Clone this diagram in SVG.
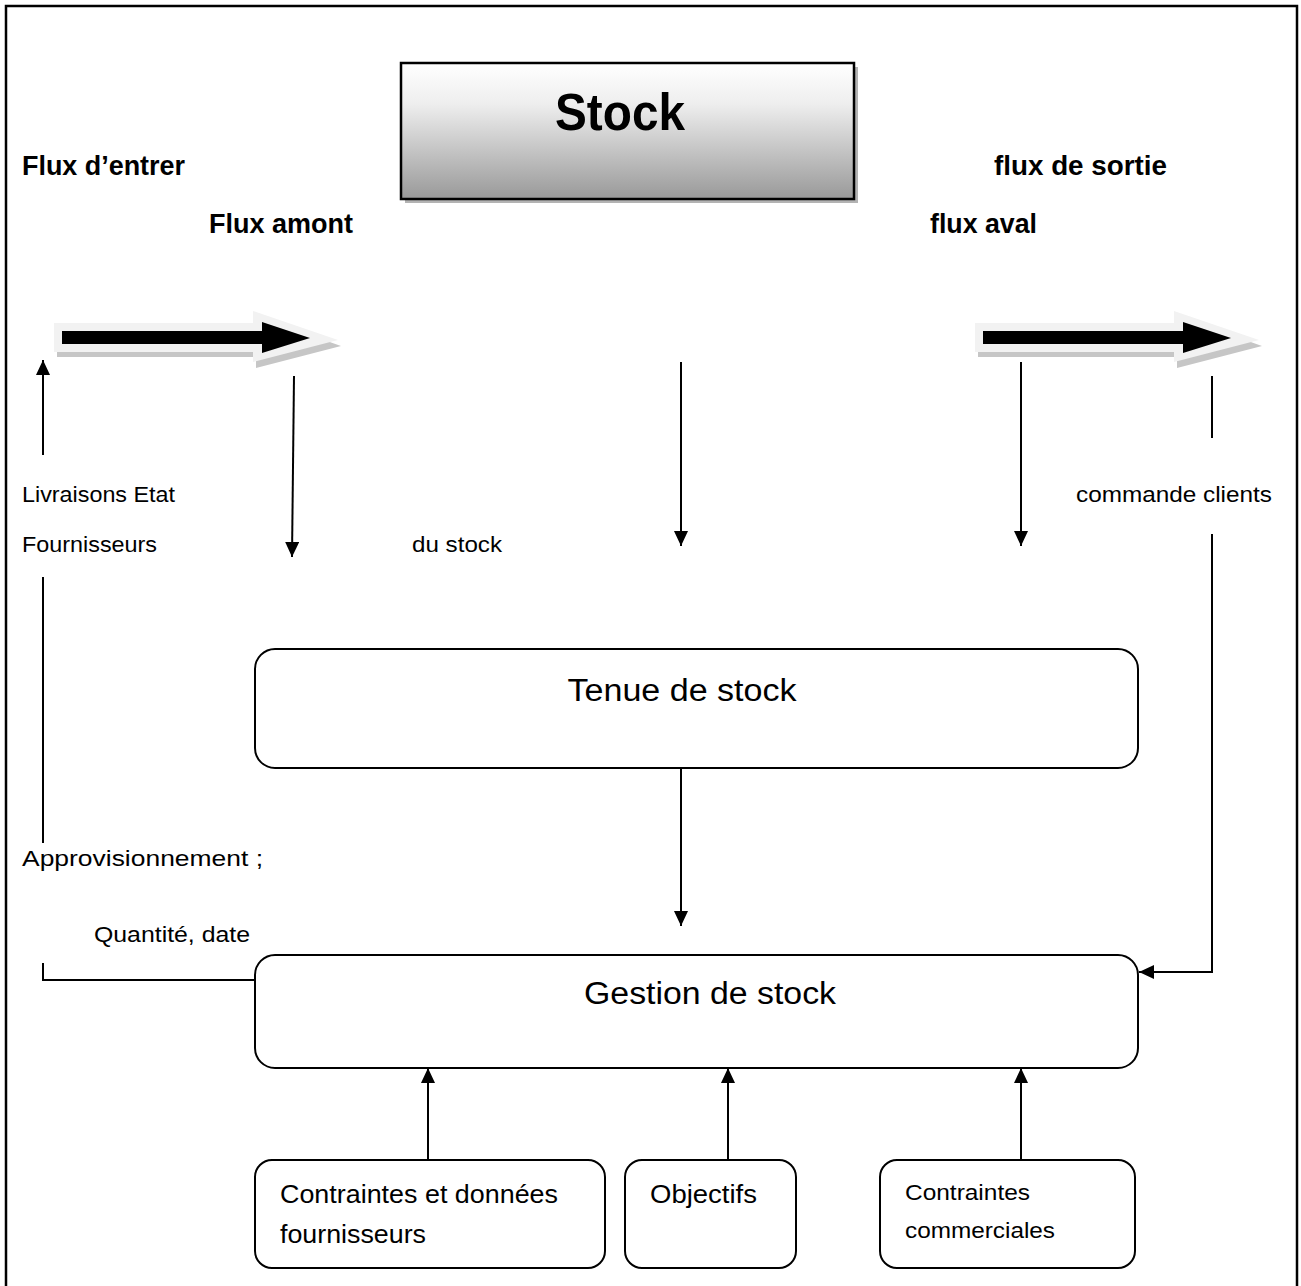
<svg xmlns="http://www.w3.org/2000/svg" width="1301" height="1286" viewBox="0 0 1301 1286">
  <style>
    .lbl { font-family: "Liberation Sans", Arial, sans-serif; font-size: 22px; fill: #000; }
    .hdr { font-family: "Liberation Sans", Arial, sans-serif; font-size: 27px; font-weight: bold; fill: #000; }
    .box { fill: #fff; stroke: #000; stroke-width: 2; }
    .ln { stroke: #000; stroke-width: 2; fill: none; }
    .big { font-family: "Liberation Sans", Arial, sans-serif; font-size: 31px; fill: #000; }
    .sm { font-family: "Liberation Sans", Arial, sans-serif; font-size: 25px; fill: #000; }
  </style>
  <defs>
    <linearGradient id="stockFill" x1="0" y1="0" x2="0" y2="1">
      <stop offset="0" stop-color="#ffffff"/>
      <stop offset="0.3" stop-color="#eeeeee"/>
      <stop offset="1" stop-color="#999999"/>
    </linearGradient>
    <marker id="headL" viewBox="0 0 15 14" refX="15" refY="7" markerWidth="15" markerHeight="14" markerUnits="userSpaceOnUse" orient="auto">
      <path d="M0,0 L15,7 L0,14 Z" fill="#000"/>
    </marker>
    <!-- thick flow arrow, reused on both sides -->
    <g id="flowArrow">
      <polygon points="57,328 256,328 256,316 341,346 256,368 256,357 57,357" fill="#c6c6c6"/>
      <polygon points="54,323 253,323 253,311 338,340 253,362 253,352 54,352" fill="#f2f2f2"/>
      <polygon points="62,331 262,331 262,322 310,338 262,353 262,344 62,344" fill="#000"/>
    </g>
  </defs>

  <rect width="1301" height="1286" fill="#fff"/>
  <!-- page frame -->
  <rect x="6" y="6" width="1291" height="1300" fill="none" stroke="#000" stroke-width="2.5"/>

  <!-- title node -->
  <g id="stock">
    <rect x="405" y="67" width="453" height="136" fill="#b3b3b3"/>
    <rect x="401" y="63" width="453" height="136" fill="url(#stockFill)" stroke="#000" stroke-width="2.5"/>
    <text x="620" y="130" text-anchor="middle" font-family="'Liberation Sans', Arial, sans-serif" font-size="52" font-weight="bold" textLength="130" lengthAdjust="spacingAndGlyphs">Stock</text>
  </g>

  <!-- flow headings -->
  <g id="headings">
    <text class="hdr" x="22" y="175" textLength="163" lengthAdjust="spacingAndGlyphs">Flux d’entrer</text>
    <text class="hdr" x="209" y="233" textLength="144" lengthAdjust="spacingAndGlyphs">Flux amont</text>
    <text class="hdr" x="994" y="175" textLength="173" lengthAdjust="spacingAndGlyphs">flux de sortie</text>
    <text class="hdr" x="930" y="233" textLength="107" lengthAdjust="spacingAndGlyphs">flux aval</text>
  </g>

  <!-- thick arrows -->
  <g id="flow-in"><use href="#flowArrow"/></g>
  <g id="flow-out"><use href="#flowArrow" transform="translate(921,0)"/></g>

  <!-- side labels -->
  <g id="labels">
    <text class="lbl" x="22" y="502" textLength="153" lengthAdjust="spacingAndGlyphs">Livraisons Etat</text>
    <text class="lbl" x="22" y="552" textLength="135" lengthAdjust="spacingAndGlyphs">Fournisseurs</text>
    <text class="lbl" x="412" y="552" textLength="90" lengthAdjust="spacingAndGlyphs">du stock</text>
    <text class="lbl" x="1076" y="502" textLength="196" lengthAdjust="spacingAndGlyphs">commande clients</text>
    <text class="lbl" x="22" y="866" textLength="241" lengthAdjust="spacingAndGlyphs">Approvisionnement ;</text>
    <text class="lbl" x="94" y="942" textLength="156" lengthAdjust="spacingAndGlyphs">Quantité, date</text>
  </g>

  <!-- nodes -->
  <g id="tenue">
    <rect class="box" x="255" y="649" width="883" height="119" rx="20"/>
    <text class="big" x="682" y="701" text-anchor="middle" textLength="229" lengthAdjust="spacingAndGlyphs">Tenue de stock</text>
  </g>
  <g id="gestion">
    <rect class="box" x="255" y="955" width="883" height="113" rx="20"/>
    <text class="big" x="710" y="1004" text-anchor="middle" textLength="252" lengthAdjust="spacingAndGlyphs">Gestion de stock</text>
  </g>
  <g id="fournisseurs">
    <rect class="box" x="255" y="1160" width="350" height="108" rx="17"/>
    <text class="sm" x="280" y="1203" textLength="278" lengthAdjust="spacingAndGlyphs">Contraintes et données</text>
    <text class="sm" x="280" y="1243" textLength="146" lengthAdjust="spacingAndGlyphs">fournisseurs</text>
  </g>
  <g id="objectifs">
    <rect class="box" x="625" y="1160" width="171" height="108" rx="17"/>
    <text class="sm" x="650" y="1203" textLength="107" lengthAdjust="spacingAndGlyphs">Objectifs</text>
  </g>
  <g id="commerciales">
    <rect class="box" x="880" y="1160" width="255" height="108" rx="17"/>
    <text class="lbl" x="905" y="1200" textLength="125" lengthAdjust="spacingAndGlyphs">Contraintes</text>
    <text class="lbl" x="905" y="1238" textLength="150" lengthAdjust="spacingAndGlyphs">commerciales</text>
  </g>

  <!-- connectors -->
  <g id="connectors" class="ln">
    <!-- supplier deliveries up to inflow -->
    <line x1="43" y1="455" x2="43" y2="360" marker-end="url(#headL)"/>
    <line x1="43" y1="577" x2="43" y2="843"/>
    <polyline points="43,963 43,980 256,980"/>
    <!-- flows down toward stock keeping -->
    <line x1="294" y1="376" x2="292" y2="557" marker-end="url(#headL)"/>
    <line x1="681" y1="362" x2="681" y2="546" marker-end="url(#headL)"/>
    <line x1="1021" y1="362" x2="1021" y2="546" marker-end="url(#headL)"/>
    <!-- customer orders -->
    <line x1="1212" y1="376" x2="1212" y2="438"/>
    <polyline points="1212,534 1212,972 1139,972" marker-end="url(#headL)"/>
    <!-- stock keeping to management -->
    <line x1="681" y1="768" x2="681" y2="926" marker-end="url(#headL)"/>
    <!-- inputs to management -->
    <line x1="428" y1="1160" x2="428" y2="1068" marker-end="url(#headL)"/>
    <line x1="728" y1="1160" x2="728" y2="1068" marker-end="url(#headL)"/>
    <line x1="1021" y1="1160" x2="1021" y2="1068" marker-end="url(#headL)"/>
  </g>
</svg>
